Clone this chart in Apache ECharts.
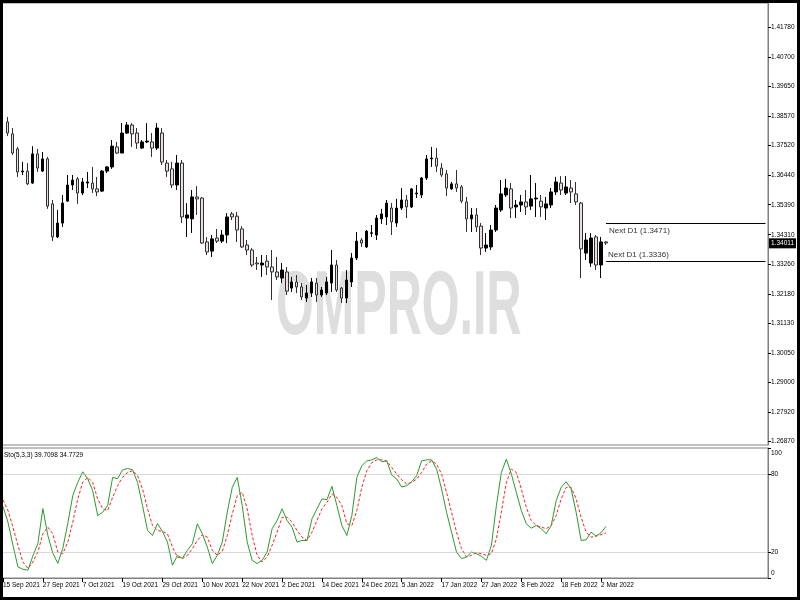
<!DOCTYPE html>
<html><head><meta charset="utf-8">
<script src="https://cdn.jsdelivr.net/npm/echarts@6/dist/echarts.min.js"></script>
<style>html,body{margin:0;padding:0;background:#fff}#c{width:800px;height:600px}</style>
</head><body><div id="c"></div><script>
const dates = [
'15 Sep 2021','16 Sep 2021','17 Sep 2021','20 Sep 2021','21 Sep 2021','22 Sep 2021','23 Sep 2021','24 Sep 2021',
'27 Sep 2021','28 Sep 2021','29 Sep 2021','30 Sep 2021','1 Oct 2021','4 Oct 2021','5 Oct 2021','6 Oct 2021',
'7 Oct 2021','8 Oct 2021','11 Oct 2021','12 Oct 2021','13 Oct 2021','14 Oct 2021','15 Oct 2021','18 Oct 2021',
'19 Oct 2021','20 Oct 2021','21 Oct 2021','22 Oct 2021','25 Oct 2021','26 Oct 2021','27 Oct 2021','28 Oct 2021',
'29 Oct 2021','1 Nov 2021','2 Nov 2021','3 Nov 2021','4 Nov 2021','5 Nov 2021','8 Nov 2021','9 Nov 2021',
'10 Nov 2021','11 Nov 2021','12 Nov 2021','15 Nov 2021','16 Nov 2021','17 Nov 2021','18 Nov 2021','19 Nov 2021',
'22 Nov 2021','23 Nov 2021','24 Nov 2021','25 Nov 2021','26 Nov 2021','29 Nov 2021','30 Nov 2021','1 Dec 2021',
'2 Dec 2021','3 Dec 2021','6 Dec 2021','7 Dec 2021','8 Dec 2021','9 Dec 2021','10 Dec 2021','13 Dec 2021',
'14 Dec 2021','15 Dec 2021','16 Dec 2021','17 Dec 2021','20 Dec 2021','21 Dec 2021','22 Dec 2021','23 Dec 2021',
'24 Dec 2021','27 Dec 2021','28 Dec 2021','29 Dec 2021','30 Dec 2021','31 Dec 2021','3 Jan 2022','4 Jan 2022',
'5 Jan 2022','6 Jan 2022','7 Jan 2022','10 Jan 2022','11 Jan 2022','12 Jan 2022','13 Jan 2022','14 Jan 2022',
'17 Jan 2022','18 Jan 2022','19 Jan 2022','20 Jan 2022','21 Jan 2022','24 Jan 2022','25 Jan 2022','26 Jan 2022',
'27 Jan 2022','28 Jan 2022','31 Jan 2022','1 Feb 2022','2 Feb 2022','3 Feb 2022','4 Feb 2022','7 Feb 2022',
'8 Feb 2022','9 Feb 2022','10 Feb 2022','11 Feb 2022','14 Feb 2022','15 Feb 2022','16 Feb 2022','17 Feb 2022',
'18 Feb 2022','21 Feb 2022','22 Feb 2022','23 Feb 2022','24 Feb 2022','25 Feb 2022','28 Feb 2022','1 Mar 2022',
'2 Mar 2022','3 Mar 2022'];

const opens = [null,
1.3837,1.3794,1.3740,1.3657,1.3660,1.3617,1.3722,1.3660,1.3704,1.3542,
1.3423,1.3473,1.3552,1.3610,1.3632,1.3581,1.3617,1.3617,1.3596,1.3588,
1.3660,1.3675,1.3747,1.3725,1.3797,1.3826,1.3797,1.3743,1.3765,1.3765,
1.3743,1.3797,1.3689,1.3668,1.3610,1.3689,1.3491,1.3488,1.3567,1.3563,
1.3405,1.3372,1.3419,1.3408,1.3430,1.3506,1.3498,1.3452,1.3394,1.3376,
1.3329,1.3322,1.3336,1.3315,1.3297,1.3275,1.3297,1.3239,1.3261,1.3243,
1.3203,1.3221,1.3257,1.3214,1.3221,1.3257,1.3322,1.3239,1.3203,1.3261,
1.3347,1.3412,1.3387,1.3436,1.3430,1.3488,1.3495,1.3527,1.3473,1.3527,
1.3556,1.3531,1.3578,1.3574,1.3635,1.3704,1.3707,1.3671,1.3650,1.3596,
1.3614,1.3603,1.3549,1.3488,1.3502,1.3462,1.3383,1.3387,1.3448,1.3520,
1.3574,1.3596,1.3531,1.3538,1.3549,1.3534,1.3560,1.3552,1.3527,1.3538,
1.3585,1.3617,1.3581,1.3599,1.3578,1.3545,1.3365,1.3329,1.3423,1.3322,
1.3405];
const highs = [null,
1.3855,1.3815,1.3747,1.3693,1.3689,1.3750,1.3740,1.3729,1.3711,1.3556,
1.3520,1.3574,1.3646,1.3646,1.3639,1.3635,1.3657,1.3675,1.3639,1.3664,
1.3678,1.3772,1.3765,1.3833,1.3837,1.3833,1.3815,1.3772,1.3833,1.3797,
1.3833,1.3815,1.3700,1.3693,1.3718,1.3700,1.3545,1.3592,1.3606,1.3567,
1.3423,1.3430,1.3452,1.3448,1.3509,1.3513,1.3513,1.3462,1.3412,1.3383,
1.3351,1.3358,1.3358,1.3376,1.3351,1.3329,1.3315,1.3279,1.3286,1.3257,
1.3250,1.3275,1.3275,1.3243,1.3279,1.3376,1.3340,1.3243,1.3304,1.3365,
1.3441,1.3419,1.3448,1.3466,1.3502,1.3524,1.3556,1.3545,1.3560,1.3599,
1.3574,1.3599,1.3610,1.3639,1.3718,1.3747,1.3743,1.3689,1.3664,1.3621,
1.3664,1.3610,1.3567,1.3527,1.3527,1.3473,1.3437,1.3466,1.3538,1.3628,
1.3632,1.3617,1.3556,1.3574,1.3592,1.3646,1.3617,1.3574,1.3567,1.3599,
1.3639,1.3642,1.3642,1.3628,1.3621,1.3549,1.3437,1.3437,1.3430,1.3423,
1.3408];
const lows = [null,
1.3786,1.3718,1.3639,1.3646,1.3610,1.3614,1.3657,1.3657,1.3524,1.3408,
1.3419,1.3459,1.3549,1.3592,1.3542,1.3574,1.3599,1.3581,1.3570,1.3585,
1.3653,1.3668,1.3722,1.3725,1.3794,1.3747,1.3740,1.3740,1.3761,1.3711,
1.3736,1.3682,1.3639,1.3599,1.3592,1.3473,1.3423,1.3437,1.3502,1.3398,
1.3358,1.3351,1.3401,1.3401,1.3401,1.3484,1.3405,1.3383,1.3358,1.3315,
1.3304,1.3279,1.3286,1.3196,1.3268,1.3257,1.3214,1.3225,1.3221,1.3196,
1.3189,1.3207,1.3189,1.3207,1.3214,1.3225,1.3225,1.3185,1.3185,1.3243,
1.3340,1.3387,1.3383,1.3423,1.3412,1.3470,1.3466,1.3430,1.3459,1.3520,
1.3491,1.3527,1.3563,1.3563,1.3628,1.3675,1.3657,1.3639,1.3570,1.3592,
1.3585,1.3545,1.3441,1.3441,1.3441,1.3358,1.3369,1.3376,1.3441,1.3513,
1.3567,1.3491,1.3491,1.3513,1.3502,1.3520,1.3495,1.3495,1.3484,1.3527,
1.3574,1.3574,1.3574,1.3545,1.3538,1.3275,1.3340,1.3315,1.3304,1.3275,
1.3394];
const closes = [null,
1.3797,1.3725,1.3657,1.3660,1.3614,1.3722,1.3671,1.3704,1.3534,1.3423,
1.3473,1.3545,1.3610,1.3628,1.3581,1.3621,1.3621,1.3596,1.3585,1.3660,
1.3675,1.3750,1.3725,1.3797,1.3826,1.3794,1.3761,1.3765,1.3768,1.3743,
1.3815,1.3693,1.3660,1.3610,1.3689,1.3495,1.3502,1.3567,1.3560,1.3401,
1.3369,1.3416,1.3408,1.3430,1.3495,1.3495,1.3448,1.3387,1.3376,1.3322,
1.3326,1.3329,1.3315,1.3297,1.3279,1.3304,1.3228,1.3261,1.3243,1.3207,
1.3221,1.3261,1.3214,1.3232,1.3261,1.3322,1.3232,1.3203,1.3268,1.3347,
1.3408,1.3401,1.3444,1.3438,1.3491,1.3506,1.3545,1.3477,1.3527,1.3556,
1.3531,1.3596,1.3581,1.3635,1.3704,1.3707,1.3678,1.3646,1.3599,1.3614,
1.3599,1.3552,1.3488,1.3502,1.3459,1.3383,1.3394,1.3448,1.3527,1.3578,
1.3599,1.3527,1.3538,1.3549,1.3531,1.3560,1.3563,1.3531,1.3542,1.3585,
1.3621,1.3592,1.3603,1.3585,1.3549,1.3380,1.3412,1.3419,1.3322,1.3405,
1.34011];

const stoK = [55,
42.9,25.1,8.5,6.7,6.0,17.0,26.6,53.4,32.7,19.0,
11.3,22.8,41.9,63.4,73.5,81.7,76.4,67.2,48.0,50.6,
55.7,77.4,76.4,83.2,84.2,83.2,73.5,55.7,36.6,32.7,
41.9,35.8,27.6,9.8,17.4,15.1,21.3,26.4,41.7,34.0,
23.8,11.1,17.4,27.6,50.6,69.7,77.4,55.7,27.6,13.6,
11.1,13.6,20.0,37.9,44.2,53.2,44.2,39.1,27.6,28.9,
28.9,45.5,53.2,60.8,60.3,70.5,55.7,40.4,32.7,48.0,
77.4,86.3,90.1,90.9,92.7,89.4,90.1,79.2,76.1,70.0,
71.0,74.1,78.7,90.1,90.9,90.9,83.8,68.5,50.6,35.3,
20.0,14.9,16.2,20.0,18.7,16.7,13.6,25.1,55.7,81.2,
91.4,80.0,65.9,51.9,41.7,38.3,40.4,37.9,34.0,40.4,
59.5,69.7,74.1,68.5,50.6,28.9,29.4,35.3,32.2,34.8,
39.7098];
const stoD = [60,
51.9,39.1,25.1,12.3,7.3,12.3,20.0,34.0,39.1,34.0,
20.0,18.7,27.6,42.9,60.8,73.5,77.4,73.5,60.8,53.2,
51.9,62.0,71.0,77.4,81.2,82.5,78.7,68.5,53.2,40.4,
36.6,35.8,34.0,23.8,16.2,14.9,17.4,22.6,28.9,33.3,
31.4,21.3,17.4,20.5,32.7,49.3,63.4,65.9,53.2,32.7,
17.4,12.3,16.2,25.1,35.3,46.7,46.7,42.9,36.6,31.4,
28.9,35.3,44.2,53.2,58.2,64.7,62.0,55.7,41.7,40.4,
51.9,69.7,82.5,88.8,90.9,90.9,90.1,85.0,80.0,75.5,
72.3,73.5,76.1,81.2,87.6,90.1,87.6,80.0,65.9,50.6,
35.3,22.6,16.2,17.4,19.5,18.7,17.4,18.7,30.2,50.6,
73.5,83.8,81.2,68.5,54.4,44.2,40.4,39.1,37.9,40.4,
48.0,60.8,69.7,69.7,60.8,46.7,35.3,31.4,32.2,33.3,
34.7729];

const priceTicks = [1.26870,1.27920,1.29000,1.30050,1.31130,1.32180,1.33260,1.34310,1.35390,1.36440,1.37520,1.38570,1.39650,1.40700,1.41780];
const stoTicks = [0,20,80,100];
const stoLevels = [20,80];
const nextD1 = [1.3471,1.3336];
const lastPrice = 1.34011;
const stoTitle = 'Sto(5,3,3) 39.7098 34.7729';
const watermark = 'OMPRO.IR';

const FONT = '"Liberation Sans",Arial,sans-serif';
const SLOTS = 154;
const cats = dates.slice();
while (cats.length < SLOTS) cats.push('~' + cats.length);
const lastCat = dates[dates.length - 1];
const endCat = cats[SLOTS - 1];
const candles = opens.map((o, i) => o == null ? '-' : [o, closes[i], lows[i], highs[i]]);
const showDate = (i) => i % 8 === 0 && i < dates.length - 1;

const chart = echarts.init(document.getElementById('c'), null, {renderer: 'canvas'});
chart.setOption({
  animation: false,
  backgroundColor: '#ffffff',
  title: {text: stoTitle, left: 4, top: 452, padding: 0,
    textStyle: {fontSize: 6.5, fontWeight: 'normal', color: '#000', fontFamily: FONT}},
  grid: [
    {left: -2, right: 32, top: 3, bottom: 155, show: true, borderColor: '#808080', borderWidth: 1},
    {left: -2, right: 32, top: 448, bottom: 22, show: true, borderColor: '#808080', borderWidth: 1}
  ],
  xAxis: [
    {type: 'category', gridIndex: 0, data: cats, boundaryGap: true,
      axisLine: {show: false}, axisTick: {show: false}, axisLabel: {show: false}, splitLine: {show: false}},
    {type: 'category', gridIndex: 1, data: cats, boundaryGap: true,
      axisLine: {show: true, lineStyle: {color: '#808080'}},
      axisTick: {show: true, interval: (i) => showDate(i), alignWithLabel: true, length: 4, lineStyle: {color: '#000'}},
      axisLabel: {interval: (i) => showDate(i), showMinLabel: true, align: 'left', fontSize: 6.5, color: '#000', margin: 4, fontFamily: FONT},
      splitLine: {show: false}}
  ],
  yAxis: [
    {type: 'value', gridIndex: 0, position: 'right', min: 1.2674, max: 1.42652, scale: true,
      axisLine: {show: true, lineStyle: {color: '#808080'}},
      axisTick: {show: true, length: 3, customValues: priceTicks, lineStyle: {color: '#000'}},
      axisLabel: {customValues: priceTicks, formatter: (v) => v.toFixed(5), fontSize: 6.5, color: '#000', margin: 3, fontFamily: FONT},
      splitLine: {show: false}},
    {type: 'value', gridIndex: 1, position: 'right', min: 0, max: 100,
      axisLine: {show: true, lineStyle: {color: '#808080'}},
      axisTick: {show: true, length: 3, customValues: stoTicks, lineStyle: {color: '#000'}},
      axisLabel: {customValues: stoTicks, fontSize: 6.5, color: '#000', margin: 3, fontFamily: FONT,
        formatter: (v) => v === 100 ? '{a|100}' : (v === 0 ? '{b|0}' : String(v)),
        rich: {a: {padding: [10, 0, 0, 0], fontSize: 6.5, fontFamily: FONT}, b: {padding: [0, 0, 10, 0], fontSize: 6.5, fontFamily: FONT}}},
      splitLine: {show: false}}
  ],
  graphic: [
    {type: 'text', x: 276, y: 264, scaleX: 0.54, scaleY: 1, z: 0, silent: true,
      style: {text: watermark, font: 'bold 90px "Liberation Sans", Arial, sans-serif', fill: '#dedede', verticalAlign: 'top', align: 'left'}},
    {type: 'rect', z: 100, silent: true, shape: {x: 1, y: 1, width: 798, height: 598},
      style: {fill: 'none', stroke: '#000', lineWidth: 4}}
  ],
  series: [
    {type: 'candlestick', xAxisIndex: 0, yAxisIndex: 0, data: candles, barWidth: 3, z: 5,
      itemStyle: {color: '#000000', color0: '#ecdede', borderColor: '#000000', borderColor0: '#303030', borderWidth: 1},
      markLine: {silent: true, symbol: ['none', 'none'], animation: false,
        data: [
          [{coord: [lastCat, nextD1[0]], lineStyle: {color: '#000', width: 1, type: 'solid'},
            label: {show: true, position: 'insideStartBottom', formatter: 'Next D1 (' + nextD1[0].toFixed(4) + ')', color: '#333', fontSize: 8, fontFamily: FONT, distance: 3}},
           {coord: [endCat, nextD1[0]]}],
          [{coord: [lastCat, nextD1[1]], lineStyle: {color: '#000', width: 1, type: 'solid'},
            label: {show: true, position: 'insideStartTop', formatter: 'Next D1 (' + nextD1[1].toFixed(4) + ')', color: '#333', fontSize: 8, fontFamily: FONT, distance: 2}},
           {coord: [endCat, nextD1[1]]}],
          {yAxis: lastPrice, lineStyle: {color: 'rgba(0,0,0,0)', width: 1},
            label: {show: true, position: 'end', formatter: lastPrice.toFixed(5), color: '#fff', backgroundColor: '#000',
              padding: [2, 2, 1, 2], fontSize: 6.5, fontFamily: FONT, distance: 1}}
        ]}},
    {type: 'line', name: 'K', xAxisIndex: 1, yAxisIndex: 1, data: stoK, symbol: 'none',
      lineStyle: {color: '#2e9a2e', width: 1}, z: 4,
      markLine: {silent: true, symbol: ['none', 'none'], label: {show: false},
        lineStyle: {color: '#b0b0b0', type: 'dotted', width: 1},
        data: stoLevels.map((v) => ({yAxis: v}))}},
    {type: 'line', name: 'D', xAxisIndex: 1, yAxisIndex: 1, data: stoD, symbol: 'none',
      lineStyle: {color: '#ff2020', width: 1, type: [3, 2]}, z: 3}
  ]
});
</script></body></html>
